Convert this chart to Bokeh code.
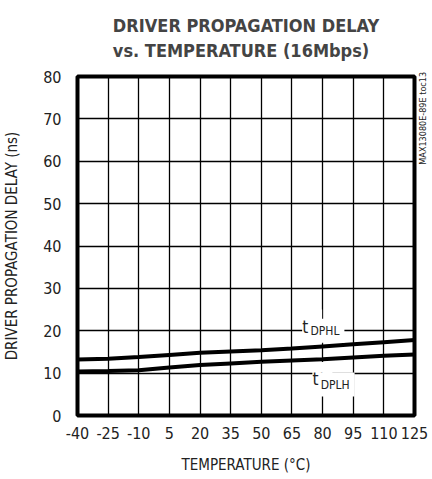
import math
from bokeh.plotting import figure
from bokeh.models import Range1d, Label, Title, FixedTicker, LinearAxis
from bokeh.embed import file_html
from bokeh.resources import INLINE

temps = [-40, -25, -10, 5, 20, 35, 50, 65, 80, 95, 110, 125]
t_dphl = [13.2, 13.4, 13.8, 14.3, 14.8, 15.1, 15.4, 15.8, 16.3, 16.8, 17.3, 17.8]
t_dplh = [10.4, 10.5, 10.7, 11.3, 11.9, 12.3, 12.7, 13.0, 13.3, 13.7, 14.1, 14.4]
x_ticks = [-40, -25, -10, 5, 20, 35, 50, 65, 80, 95, 110, 125]
x_tick_labels = ["-40", "-25", "-10", "5", "20", "35", "50", "65", "80", "95", "110", "125"]
y_ticks = [0, 10, 20, 30, 40, 50, 60, 70, 80]
code_text = "MAX13080E-89E toc13"

FONT = "DejaVu Sans Condensed"

p = figure(frame_width=337, frame_height=339, output_backend="svg",
           toolbar_location=None, title=None,
           x_range=Range1d(-40, 125), y_range=Range1d(0, 80),
           min_border_left=73, min_border_right=0, min_border_top=0,
           min_border_bottom=5, background_fill_color="white",
           border_fill_color="white")

p.add_layout(Title(text="DRIVER PROPAGATION DELAY\nvs. TEMPERATURE (16Mbps)",
                   align="center", vertical_align="top",
                   text_font=FONT, text_font_size="18px",
                   text_font_style="bold", text_line_height=1.2,
                   standoff=28), "above")

p.outline_line_color = "black"
p.outline_line_width = 4

p.xaxis.ticker = FixedTicker(ticks=x_ticks)
p.xaxis.major_label_overrides = {t: s for t, s in zip(x_ticks, x_tick_labels)}
p.yaxis.ticker = FixedTicker(ticks=y_ticks)
for ax in (p.xaxis[0], p.yaxis[0]):
    ax.axis_line_color = None
    ax.major_tick_line_color = None
    ax.minor_tick_line_color = None
    ax.major_label_text_font = FONT
    ax.major_label_text_font_size = "16px"
    ax.major_label_text_color = "#222222"
    ax.axis_label_text_font = FONT
    ax.axis_label_text_font_style = "normal"
    ax.axis_label_text_color = "#222222"
p.xaxis.axis_label = "TEMPERATURE (\u00b0C)"
p.yaxis.axis_label = "DRIVER PROPAGATION DELAY (ns)"
p.xaxis.axis_label_text_font_size = "15px"
p.yaxis.axis_label_text_font_size = "15px"
p.xaxis.major_label_standoff = 5
p.yaxis.major_label_standoff = 10
p.xaxis.axis_label_standoff = 14
p.yaxis.axis_label_standoff = 19

# right-hand vertical code text, drawn as the single tick label of a right axis
code_pos = 59.2
right_ax = LinearAxis(ticker=FixedTicker(ticks=[code_pos]),
                      major_label_overrides={code_pos: code_text},
                      major_label_orientation=math.pi / 2,
                      major_label_text_font=FONT,
                      major_label_text_font_size="9px",
                      major_label_text_color="#222222",
                      major_label_standoff=3,
                      axis_line_color=None, major_tick_line_color=None,
                      minor_tick_line_color=None)
p.add_layout(right_ax, "right")

p.xgrid.ticker = FixedTicker(ticks=x_ticks)
p.ygrid.ticker = FixedTicker(ticks=y_ticks)
p.grid.grid_line_color = "black"
p.grid.grid_line_width = 1.3
p.grid.grid_line_alpha = 1.0

p.line(temps, t_dphl, line_color="black", line_width=4)
p.line(temps, t_dplh, line_color="black", line_width=4)

def sub_label(x, y, main, sub, dy):
    style = dict(text_font=FONT, text_baseline="middle", text_align="left",
                 text_color="#222222")
    p.add_layout(Label(x=x, y=y, text=main, text_font_size="17px",
                       background_fill_color="white", padding=7, **style))
    p.add_layout(Label(x=x + 1.6, y=y - dy, text=sub, text_font_size="12px",
                       background_fill_color="white", padding=5, **style))
    p.add_layout(Label(x=x, y=y, text=main, text_font_size="17px", **style))

sub_label(70.0, 21.0, "t", "DPHL", 1.0)
sub_label(75.0, 8.6, "t", "DPLH", 1.3)

open("out.html", "w").write(file_html(p, INLINE))
